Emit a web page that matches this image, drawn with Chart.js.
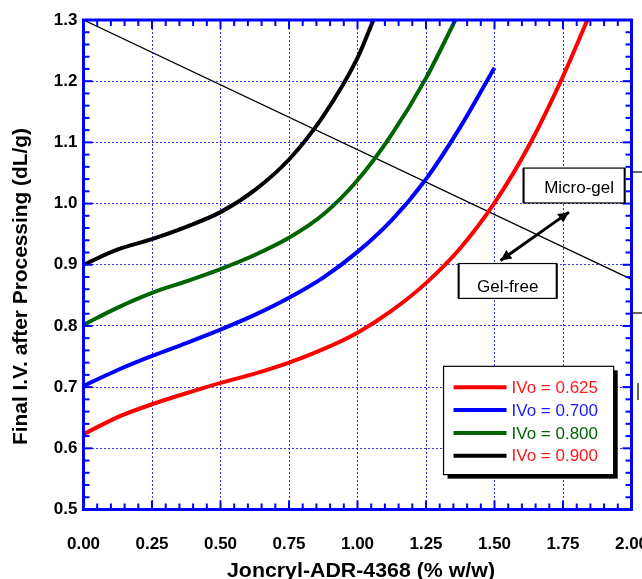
<!DOCTYPE html>
<html><head><meta charset="utf-8">
<script src="https://cdn.jsdelivr.net/npm/chart.js@4.4.0/dist/chart.umd.min.js"></script>
<style>html,body{margin:0;padding:0;background:#fff;}#wrap{width:642px;height:579px;}</style>
</head><body><div id="wrap"><canvas id="c" width="642" height="579"></canvas></div>
<script>
const seriesLabels = ['IVo = 0.625', 'IVo = 0.700', 'IVo = 0.800', 'IVo = 0.900'];
const lineColors = ['#ff0000', '#0000ff', '#006400', '#000000'];
const legendTextColors = ['#ff1a1a', '#1a1aff', '#006400', '#ff1a1a'];

const redX = [0, 0.125, 0.25, 0.375, 0.5, 0.625, 0.75, 0.875, 1.0, 1.125, 1.25, 1.375, 1.5, 1.625, 1.75, 1.839];
const redY = [0.623, 0.651, 0.672, 0.69, 0.707, 0.722, 0.74, 0.762, 0.789, 0.825, 0.87, 0.927, 1.001, 1.094, 1.208, 1.3];

const blueX = [0, 0.125, 0.25, 0.375, 0.5, 0.625, 0.75, 0.875, 1.0, 1.125, 1.25, 1.375, 1.5];
const blueY = [0.702, 0.728, 0.751, 0.772, 0.794, 0.818, 0.846, 0.879, 0.921, 0.973, 1.04, 1.125, 1.222];

const greenX = [0, 0.125, 0.25, 0.375, 0.5, 0.625, 0.75, 0.875, 1.0, 1.125, 1.25, 1.357];
const greenY = [0.802, 0.83, 0.854, 0.873, 0.893, 0.916, 0.944, 0.982, 1.038, 1.113, 1.205, 1.3];

const blackX = [0, 0.125, 0.25, 0.375, 0.5, 0.625, 0.75, 0.875, 1.0, 1.058];
const blackY = [0.9, 0.925, 0.942, 0.962, 0.986, 1.022, 1.072, 1.143, 1.238, 1.3];

const boundaryX = [0, 2.0];
const boundaryY = [1.3, 0.876];

const xTitle = 'Joncryl-ADR-4368 (% w/w)';
const yTitle = 'Final I.V. after Processing (dL/g)';

// annotations in data units
const microGelBox = {x0: 1.606, x1: 1.975, y0: 1.058, y1: 1.001, text: 'Micro-gel'};
const gelFreeBox = {x0: 1.369, x1: 1.727, y0: 0.902, y1: 0.845, text: 'Gel-free'};
const arrowEnds = {x0: 1.522, y0: 0.907, x1: 1.772, y1: 0.986};
const legendBox = {x0: 1.314, x1: 1.935, y0: 0.734, y1: 0.557};

const zip = (xs, ys) => xs.map((x, i) => ({x, y: ys[i]}));
const curves = [[redX, redY], [blueX, blueY], [greenX, greenY], [blackX, blackY]];

const datasets = curves.map((c, i) => ({
  label: seriesLabels[i], data: zip(c[0], c[1]), borderColor: lineColors[i],
  borderWidth: 4, pointRadius: 0, showLine: true, cubicInterpolationMode: 'monotone', fill: false
}));
datasets.push({label: 'boundary', data: zip(boundaryX, boundaryY), borderColor: '#000', borderWidth: 1.3,
  pointRadius: 0, showLine: true, fill: false});

const F = '"Liberation Sans", Arial, Helvetica, sans-serif';

function line(ctx, a, b, c, d) { ctx.beginPath(); ctx.moveTo(a, b); ctx.lineTo(c, d); ctx.stroke(); }

function stretchedText(ctx, text, cx, baseY, targetLen, rotate) {
  ctx.save();
  ctx.font = 'bold 19.5px ' + F;
  const w = ctx.measureText(text).width;
  ctx.translate(cx, baseY);
  if (rotate) ctx.rotate(-Math.PI / 2);
  ctx.scale(targetLen / w, 1);
  ctx.textAlign = 'center'; ctx.textBaseline = 'alphabetic'; ctx.fillStyle = '#000';
  ctx.fillText(text, 0, 0);
  ctx.restore();
}

const decor = {
  id: 'decor',
  afterDatasetsDraw(chart) {
    const {ctx, chartArea: a, scales: {x, y}} = chart;
    ctx.save();
    // tick marks (inward)
    ctx.strokeStyle = '#0000ff'; ctx.lineWidth = 2;
    for (let i = 0; i <= 40; i++) {
      const px = x.getPixelForValue(i * 0.05);
      const L = i % 5 === 0 ? 9 : 6;
      line(ctx, px, a.bottom, px, a.bottom - L);
      line(ctx, px, a.top, px, a.top + L);
    }
    for (let i = 0; i <= 40; i++) {
      const py = y.getPixelForValue(0.5 + i * 0.02);
      const L = i % 5 === 0 ? 9 : 6;
      line(ctx, a.left, py, a.left + L, py);
      line(ctx, a.right, py, a.right - L, py);
    }
    ctx.lineWidth = 3;
    ctx.strokeRect(a.left, a.top, a.right - a.left, a.bottom - a.top);

    // annotation boxes
    ctx.strokeStyle = '#000'; ctx.fillStyle = '#000';
    ctx.font = '17px ' + F; ctx.textAlign = 'center'; ctx.textBaseline = 'middle';
    [microGelBox, gelFreeBox].forEach((b, k) => {
      const l = x.getPixelForValue(b.x0), r = x.getPixelForValue(b.x1);
      const t = y.getPixelForValue(b.y0), bt = y.getPixelForValue(b.y1);
      ctx.fillStyle = '#fff'; ctx.fillRect(l, t, r - l, bt - t);
      ctx.lineWidth = 1.2; ctx.strokeRect(l, t, r - l, bt - t);
      ctx.lineWidth = 2; line(ctx, l, t, l, bt); line(ctx, r, t, r, bt);
      ctx.fillStyle = '#000';
      ctx.fillText(b.text, (l + r) / 2 + (k === 0 ? 5 : 0), k === 0 ? (t + bt) / 2 + 3 : bt - 11);
    });
    // double arrow
    const ax0 = x.getPixelForValue(arrowEnds.x0), ay0 = y.getPixelForValue(arrowEnds.y0);
    const ax1 = x.getPixelForValue(arrowEnds.x1), ay1 = y.getPixelForValue(arrowEnds.y1);
    ctx.lineWidth = 3; line(ctx, ax0, ay0, ax1, ay1);
    const ang = Math.atan2(ay1 - ay0, ax1 - ax0);
    [[ax1, ay1, ang], [ax0, ay0, ang + Math.PI]].forEach(([hx, hy, an]) => {
      ctx.beginPath(); ctx.moveTo(hx, hy);
      ctx.lineTo(hx - 12 * Math.cos(an - 0.45), hy - 12 * Math.sin(an - 0.45));
      ctx.lineTo(hx - 12 * Math.cos(an + 0.45), hy - 12 * Math.sin(an + 0.45));
      ctx.closePath(); ctx.fill();
    });

    // legend
    const ll = x.getPixelForValue(legendBox.x0), lr = x.getPixelForValue(legendBox.x1);
    const lt = y.getPixelForValue(legendBox.y0), lb = y.getPixelForValue(legendBox.y1);
    ctx.fillStyle = '#000'; ctx.fillRect(ll + 4, lt + 4, lr - ll, lb - lt);
    ctx.fillStyle = '#fff'; ctx.fillRect(ll, lt, lr - ll, lb - lt);
    ctx.lineWidth = 1.2; ctx.strokeStyle = '#000'; ctx.strokeRect(ll, lt, lr - ll, lb - lt);
    ctx.font = '17px ' + F; ctx.textAlign = 'left'; ctx.textBaseline = 'middle';
    chart.data.datasets.slice(0, 4).forEach((ds, i) => {
      const ry = lt + 21 + i * 22.8;
      ctx.strokeStyle = ds.borderColor; ctx.lineWidth = 4;
      line(ctx, ll + 10, ry, ll + 63, ry);
      ctx.fillStyle = legendTextColors[i];
      ctx.fillText(ds.label, ll + 68, ry + 1);
    });

    // cropped figure remnants at right edge
    ctx.strokeStyle = '#000'; ctx.lineWidth = 1.2;
    line(ctx, a.right, 172, 642, 172);
    line(ctx, a.right, 313, 642, 313);
    line(ctx, 638, 383, 638, 400);

    // axis titles
    stretchedText(ctx, xTitle, 361, 577, 268, false);
    stretchedText(ctx, yTitle, 27, 286.5, 317, true);
    ctx.restore();
  }
};

new Chart(document.getElementById('c'), {
  type: 'scatter',
  data: {datasets},
  options: {
    responsive: false, animation: false,
    layout: {padding: {top: 20, right: 10.5, left: 0, bottom: 0}},
    plugins: {legend: {display: false}, tooltip: {enabled: false}},
    scales: {
      x: {
        type: 'linear', min: 0, max: 2,
        ticks: {stepSize: 0.25, callback: v => v.toFixed(2), color: '#000',
          font: {family: F, size: 17, weight: 'bold'}, padding: 25, maxRotation: 0, autoSkip: false},
        grid: {color: 'rgba(20,20,230,0.85)', lineWidth: 1, drawTicks: false},
        border: {display: false, dash: [2, 2]},
        title: {display: false},
        afterFit: s => { s.height = 69.5; s.paddingLeft = 0; s.paddingRight = 0; }
      },
      y: {
        type: 'linear', min: 0.5, max: 1.3,
        ticks: {stepSize: 0.1, callback: v => v.toFixed(1), color: '#000',
          font: {family: F, size: 17, weight: 'bold'}, padding: 6},
        grid: {color: 'rgba(20,20,230,0.85)', lineWidth: 1, drawTicks: false},
        border: {display: false, dash: [2, 2]},
        title: {display: false},
        afterFit: s => { s.width = 83.5; s.paddingTop = 0; s.paddingBottom = 0; }
      }
    }
  },
  plugins: [decor]
});
</script></body></html>
